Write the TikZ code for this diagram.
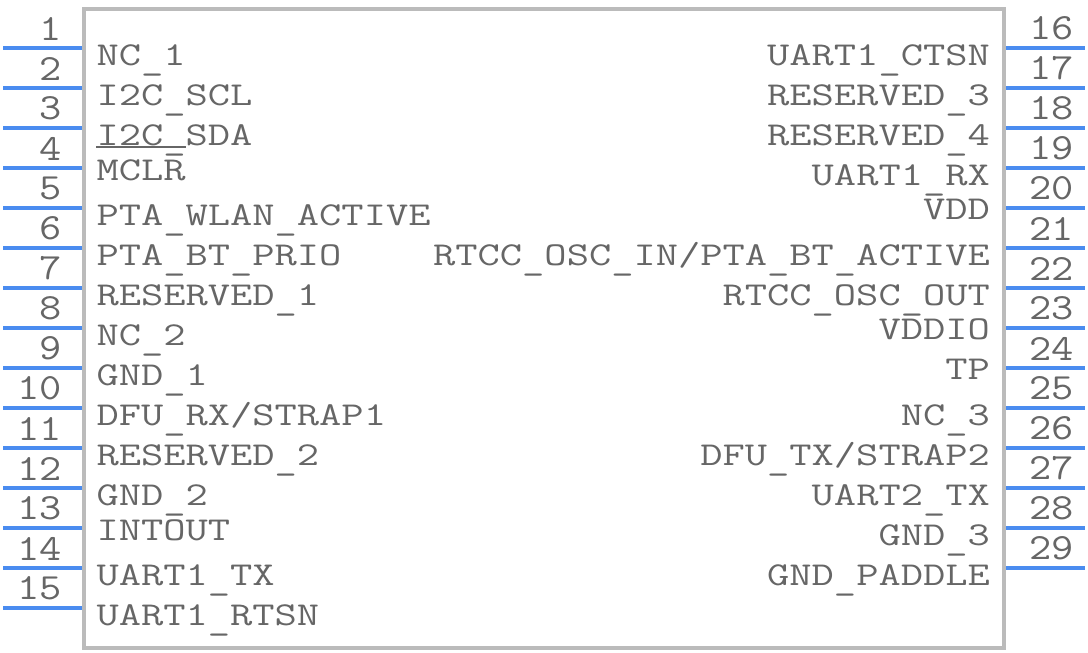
\documentclass[tikz,border=0pt]{standalone}
\usepackage{fontspec}
\newfontfamily\pinfont[FakeStretch=1.295]{Latin Modern Mono}
\newfontfamily\numfont[FakeStretch=1.17]{Latin Modern Mono}
\usetikzlibrary{positioning}

\definecolor{chipgray}{HTML}{BBBBBB}
\definecolor{pinblue}{HTML}{4A8CF0}
\definecolor{txtgray}{HTML}{666666}

\newcommand{\lowbar}{\raisebox{-0.08cm}{\_}}

\begin{document}
\begin{tikzpicture}[node distance = 1cm, auto]

\tikzstyle{chip} = [rectangle, draw = chipgray, line width = 0.08cm, minimum width = 18.4cm, minimum height = 12.78cm, inner sep = 0pt]

\tikzstyle{pinline} = [draw = pinblue, line width = 0.08cm]

\tikzstyle{numleft} = [text = txtgray, inner sep = 0pt, font = \numfont\fontsize{21pt}{21pt}\selectfont, anchor = south east]

\tikzstyle{numright} = [text = txtgray, inner sep = 0pt, font = \numfont\fontsize{21pt}{21pt}\selectfont, anchor = south west]

\tikzstyle{lblleft} = [text = txtgray, inner sep = 0pt, font = \pinfont\fontsize{19pt}{19pt}\selectfont, anchor = base west]

\tikzstyle{lblright} = [text = txtgray, inner sep = 0pt, font = \pinfont\fontsize{19pt}{19pt}\selectfont, anchor = base east]

\useasboundingbox (0,0) rectangle (21.76,13.04);

\node [chip] (chip) at (10.884,6.478) {};

% left pins
\coordinate (l1) at ([yshift=-0.82cm]chip.north west);
\coordinate [below = 0.8cm of l1] (l2);
\coordinate [below = 0.8cm of l2] (l3);
\coordinate [below = 0.8cm of l3] (l4);
\coordinate [below = 0.8cm of l4] (l5);
\coordinate [below = 0.8cm of l5] (l6);
\coordinate [below = 0.8cm of l6] (l7);
\coordinate [below = 0.8cm of l7] (l8);
\coordinate [below = 0.8cm of l8] (l9);
\coordinate [below = 0.8cm of l9] (l10);
\coordinate [below = 0.8cm of l10] (l11);
\coordinate [below = 0.8cm of l11] (l12);
\coordinate [below = 0.8cm of l12] (l13);
\coordinate [below = 0.8cm of l13] (l14);
\coordinate [below = 0.8cm of l14] (l15);

\coordinate [left = 1.58cm of l1] (l1_end);
\coordinate [left = 1.58cm of l2] (l2_end);
\coordinate [left = 1.58cm of l3] (l3_end);
\coordinate [left = 1.58cm of l4] (l4_end);
\coordinate [left = 1.58cm of l5] (l5_end);
\coordinate [left = 1.58cm of l6] (l6_end);
\coordinate [left = 1.58cm of l7] (l7_end);
\coordinate [left = 1.58cm of l8] (l8_end);
\coordinate [left = 1.58cm of l9] (l9_end);
\coordinate [left = 1.58cm of l10] (l10_end);
\coordinate [left = 1.58cm of l11] (l11_end);
\coordinate [left = 1.58cm of l12] (l12_end);
\coordinate [left = 1.58cm of l13] (l13_end);
\coordinate [left = 1.58cm of l14] (l14_end);
\coordinate [left = 1.58cm of l15] (l15_end);

\path[pinline] (l1_end) -- (l1);
\path[pinline] (l2_end) -- (l2);
\path[pinline] (l3_end) -- (l3);
\path[pinline] (l4_end) -- (l4);
\path[pinline] (l5_end) -- (l5);
\path[pinline] (l6_end) -- (l6);
\path[pinline] (l7_end) -- (l7);
\path[pinline] (l8_end) -- (l8);
\path[pinline] (l9_end) -- (l9);
\path[pinline] (l10_end) -- (l10);
\path[pinline] (l11_end) -- (l11);
\path[pinline] (l12_end) -- (l12);
\path[pinline] (l13_end) -- (l13);
\path[pinline] (l14_end) -- (l14);
\path[pinline] (l15_end) -- (l15);

\node [numleft, above left = 0.14cm and 0.40cm of l1] (n1) {1};
\node [numleft, above left = 0.14cm and 0.40cm of l2] (n2) {2};
\node [numleft, above left = 0.14cm and 0.40cm of l3] (n3) {3};
\node [numleft, above left = 0.14cm and 0.40cm of l4] (n4) {4};
\node [numleft, above left = 0.14cm and 0.40cm of l5] (n5) {5};
\node [numleft, above left = 0.14cm and 0.40cm of l6] (n6) {6};
\node [numleft, above left = 0.14cm and 0.40cm of l7] (n7) {7};
\node [numleft, above left = 0.14cm and 0.40cm of l8] (n8) {8};
\node [numleft, above left = 0.14cm and 0.40cm of l9] (n9) {9};
\node [numleft, above left = 0.14cm and 0.40cm of l10] (n10) {10};
\node [numleft, above left = 0.14cm and 0.40cm of l11] (n11) {11};
\node [numleft, above left = 0.14cm and 0.40cm of l12] (n12) {12};
\node [numleft, above left = 0.14cm and 0.40cm of l13] (n13) {13};
\node [numleft, above left = 0.14cm and 0.40cm of l14] (n14) {14};
\node [numleft, above left = 0.14cm and 0.40cm of l15] (n15) {15};

\node [lblleft] (nc_1) at ([xshift=0.28cm,yshift=-0.35cm]l1) {NC\lowbar 1};
\node [lblleft] (i2c_scl) at ([xshift=0.28cm,yshift=-0.35cm]l2) {I2C\lowbar SCL};
\node [lblleft] (i2c_sda) at ([xshift=0.28cm,yshift=-0.35cm]l3) {I2C\lowbar SDA};
\node [lblleft] (mclr) at ([xshift=0.28cm,yshift=-0.25cm]l4) {MCLR};
\node [lblleft] (pta_wlan) at ([xshift=0.28cm,yshift=-0.35cm]l5) {PTA\lowbar WLAN\lowbar ACTIVE};
\node [lblleft] (pta_bt) at ([xshift=0.28cm,yshift=-0.35cm]l6) {PTA\lowbar BT\lowbar PRIO};
\node [lblleft] (reserved_1) at ([xshift=0.28cm,yshift=-0.35cm]l7) {RESERVED\lowbar 1};
\node [lblleft] (nc_2) at ([xshift=0.28cm,yshift=-0.35cm]l8) {NC\lowbar 2};
\node [lblleft] (gnd_1) at ([xshift=0.28cm,yshift=-0.35cm]l9) {GND\lowbar 1};
\node [lblleft] (dfu_rx) at ([xshift=0.28cm,yshift=-0.35cm]l10) {DFU\lowbar RX/STRAP1};
\node [lblleft] (reserved_2) at ([xshift=0.28cm,yshift=-0.35cm]l11) {RESERVED\lowbar 2};
\node [lblleft] (gnd_2) at ([xshift=0.28cm,yshift=-0.35cm]l12) {GND\lowbar 2};
\node [lblleft] (intout) at ([xshift=0.28cm,yshift=-0.25cm]l13) {INTOUT};
\node [lblleft] (uart1_tx) at ([xshift=0.28cm,yshift=-0.35cm]l14) {UART1\lowbar TX};
\node [lblleft] (uart1_rtsn) at ([xshift=0.28cm,yshift=-0.35cm]l15) {UART1\lowbar RTSN};

% bar over MCLR
\draw[draw = txtgray, line width = 0.04cm] ([yshift=0.24cm]mclr.north west) -- ([yshift=0.24cm]mclr.north east);

% right pins
\coordinate (r16) at ([yshift=-0.82cm]chip.north east);
\coordinate [below = 0.8cm of r16] (r17);
\coordinate [below = 0.8cm of r17] (r18);
\coordinate [below = 0.8cm of r18] (r19);
\coordinate [below = 0.8cm of r19] (r20);
\coordinate [below = 0.8cm of r20] (r21);
\coordinate [below = 0.8cm of r21] (r22);
\coordinate [below = 0.8cm of r22] (r23);
\coordinate [below = 0.8cm of r23] (r24);
\coordinate [below = 0.8cm of r24] (r25);
\coordinate [below = 0.8cm of r25] (r26);
\coordinate [below = 0.8cm of r26] (r27);
\coordinate [below = 0.8cm of r27] (r28);
\coordinate [below = 0.8cm of r28] (r29);

\coordinate [right = 1.58cm of r16] (r16_end);
\coordinate [right = 1.58cm of r17] (r17_end);
\coordinate [right = 1.58cm of r18] (r18_end);
\coordinate [right = 1.58cm of r19] (r19_end);
\coordinate [right = 1.58cm of r20] (r20_end);
\coordinate [right = 1.58cm of r21] (r21_end);
\coordinate [right = 1.58cm of r22] (r22_end);
\coordinate [right = 1.58cm of r23] (r23_end);
\coordinate [right = 1.58cm of r24] (r24_end);
\coordinate [right = 1.58cm of r25] (r25_end);
\coordinate [right = 1.58cm of r26] (r26_end);
\coordinate [right = 1.58cm of r27] (r27_end);
\coordinate [right = 1.58cm of r28] (r28_end);
\coordinate [right = 1.58cm of r29] (r29_end);

\path[pinline] (r16) -- (r16_end);
\path[pinline] (r17) -- (r17_end);
\path[pinline] (r18) -- (r18_end);
\path[pinline] (r19) -- (r19_end);
\path[pinline] (r20) -- (r20_end);
\path[pinline] (r21) -- (r21_end);
\path[pinline] (r22) -- (r22_end);
\path[pinline] (r23) -- (r23_end);
\path[pinline] (r24) -- (r24_end);
\path[pinline] (r25) -- (r25_end);
\path[pinline] (r26) -- (r26_end);
\path[pinline] (r27) -- (r27_end);
\path[pinline] (r28) -- (r28_end);
\path[pinline] (r29) -- (r29_end);

\node [numright, above right = 0.14cm and 0.46cm of r16] (n16) {16};
\node [numright, above right = 0.14cm and 0.46cm of r17] (n17) {17};
\node [numright, above right = 0.14cm and 0.46cm of r18] (n18) {18};
\node [numright, above right = 0.14cm and 0.46cm of r19] (n19) {19};
\node [numright, above right = 0.14cm and 0.46cm of r20] (n20) {20};
\node [numright, above right = 0.14cm and 0.46cm of r21] (n21) {21};
\node [numright, above right = 0.14cm and 0.46cm of r22] (n22) {22};
\node [numright, above right = 0.14cm and 0.46cm of r23] (n23) {23};
\node [numright, above right = 0.14cm and 0.46cm of r24] (n24) {24};
\node [numright, above right = 0.14cm and 0.46cm of r25] (n25) {25};
\node [numright, above right = 0.14cm and 0.46cm of r26] (n26) {26};
\node [numright, above right = 0.14cm and 0.46cm of r27] (n27) {27};
\node [numright, above right = 0.14cm and 0.46cm of r28] (n28) {28};
\node [numright, above right = 0.14cm and 0.46cm of r29] (n29) {29};

\node [lblright] (uart1_ctsn) at ([xshift=-0.32cm,yshift=-0.35cm]r16) {UART1\lowbar CTSN};
\node [lblright] (reserved_3) at ([xshift=-0.32cm,yshift=-0.35cm]r17) {RESERVED\lowbar 3};
\node [lblright] (reserved_4) at ([xshift=-0.32cm,yshift=-0.35cm]r18) {RESERVED\lowbar 4};
\node [lblright] (uart1_rx) at ([xshift=-0.32cm,yshift=-0.35cm]r19) {UART1\lowbar RX};
\node [lblright] (vdd) at ([xshift=-0.32cm,yshift=-0.23cm]r20) {VDD};
\node [lblright] (rtcc_in) at ([xshift=-0.32cm,yshift=-0.35cm]r21) {RTCC\lowbar OSC\lowbar IN/PTA\lowbar BT\lowbar ACTIVE};
\node [lblright] (rtcc_out) at ([xshift=-0.32cm,yshift=-0.35cm]r22) {RTCC\lowbar OSC\lowbar OUT};
\node [lblright] (vddio) at ([xshift=-0.32cm,yshift=-0.23cm]r23) {VDDIO};
\node [lblright] (tp) at ([xshift=-0.32cm,yshift=-0.23cm]r24) {TP};
\node [lblright] (nc_3) at ([xshift=-0.32cm,yshift=-0.35cm]r25) {NC\lowbar 3};
\node [lblright] (dfu_tx) at ([xshift=-0.32cm,yshift=-0.35cm]r26) {DFU\lowbar TX/STRAP2};
\node [lblright] (uart2_tx) at ([xshift=-0.32cm,yshift=-0.35cm]r27) {UART2\lowbar TX};
\node [lblright] (gnd_3) at ([xshift=-0.32cm,yshift=-0.35cm]r28) {GND\lowbar 3};
\node [lblright] (gnd_paddle) at ([xshift=-0.32cm,yshift=-0.35cm]r29) {GND\lowbar PADDLE};

\end{tikzpicture}
\end{document}
